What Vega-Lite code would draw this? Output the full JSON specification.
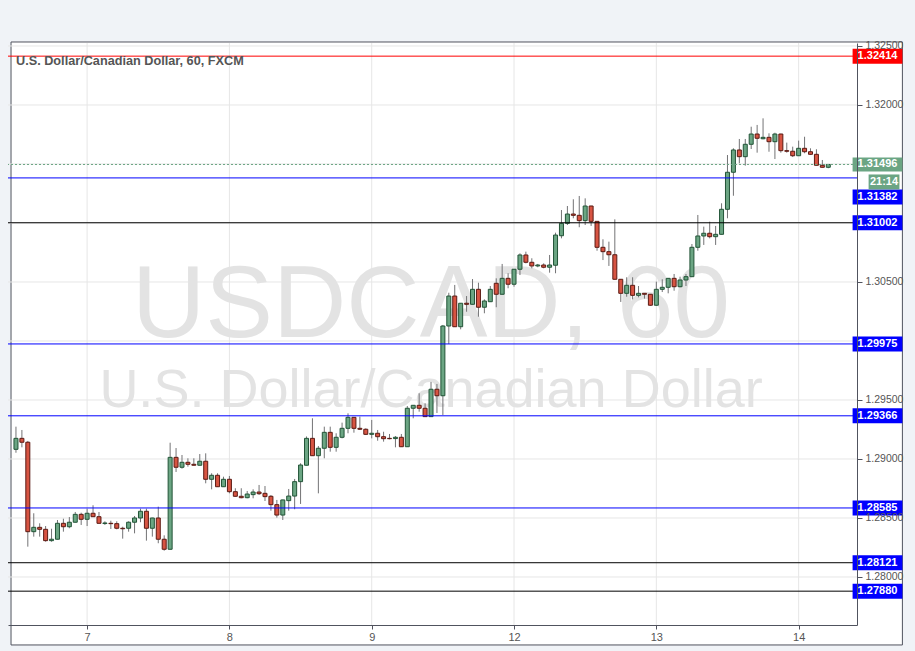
{
"$schema": "https://vega.github.io/schema/vega-lite/v6.json",
"width": 849, "height": 582,
"autosize": {"type": "none"},
"padding": {"left": 8, "top": 43, "right": 58, "bottom": 26},
"background": "#f0f3f7",
"title": {"text": "U.S. Dollar/Canadian Dollar, 60, FXCM", "anchor": "start", "frame": "group", "offset": -37, "dx": 8, "baseline": "alphabetic", "fontSize": 12.7, "fontWeight": "bold", "color": "#555555", "font": "Liberation Sans", "zindex": 1},
"config": {"view": {"stroke": null}, "font": "Liberation Sans"},
"datasets": {
"meta": [{"symbol": "USDCAD, 60", "name": "U.S. Dollar/Canadian Dollar", "countdown": "21:14"}],
"hgrid": [{"p":1.28},{"p":1.285},{"p":1.29},{"p":1.295},{"p":1.30},{"p":1.305},{"p":1.31},{"p":1.315},{"p":1.32},{"p":1.325}],
"vgrid": [{"i":12},{"i":36},{"i":60},{"i":84},{"i":108},{"i":132}],
"levels": [
{"price":1.32414,"kind":"major"},{"price":1.31382,"kind":"minor"},{"price":1.31002,"kind":"key"},{"price":1.29975,"kind":"minor"},
{"price":1.29366,"kind":"minor"},{"price":1.28585,"kind":"minor"},{"price":1.28121,"kind":"key"},{"price":1.27880,"kind":"key"}],
"current": [{"price":1.31496,"countdown":"21:14"}],
"candles": [
{"i":0,"o":1.29082,"h":1.29274,"l":1.29053,"c":1.29175},
{"i":1,"o":1.29175,"h":1.29246,"l":1.29099,"c":1.29142},
{"i":2,"o":1.29142,"h":1.29153,"l":1.28257,"c":1.28384},
{"i":3,"o":1.28384,"h":1.28540,"l":1.28342,"c":1.28421},
{"i":4,"o":1.28421,"h":1.28455,"l":1.28342,"c":1.28404},
{"i":5,"o":1.28404,"h":1.28432,"l":1.28299,"c":1.28308},
{"i":6,"o":1.28308,"h":1.28409,"l":1.28299,"c":1.28320},
{"i":7,"o":1.28320,"h":1.28483,"l":1.28318,"c":1.28455},
{"i":8,"o":1.28455,"h":1.28494,"l":1.28384,"c":1.28426},
{"i":9,"o":1.28426,"h":1.28508,"l":1.28413,"c":1.28464},
{"i":10,"o":1.28464,"h":1.28551,"l":1.28462,"c":1.28531},
{"i":11,"o":1.28531,"h":1.28545,"l":1.28441,"c":1.28489},
{"i":12,"o":1.28489,"h":1.28579,"l":1.28432,"c":1.28540},
{"i":13,"o":1.28540,"h":1.28608,"l":1.28509,"c":1.28511},
{"i":14,"o":1.28511,"h":1.28551,"l":1.28453,"c":1.28455},
{"i":15,"o":1.28453,"h":1.28472,"l":1.28441,"c":1.28458},
{"i":16,"o":1.28455,"h":1.28477,"l":1.28407,"c":1.28452},
{"i":17,"o":1.28452,"h":1.28472,"l":1.28404,"c":1.28413},
{"i":18,"o":1.28413,"h":1.28426,"l":1.28325,"c":1.28409},
{"i":19,"o":1.28413,"h":1.28472,"l":1.28384,"c":1.28464},
{"i":20,"o":1.28464,"h":1.28517,"l":1.28370,"c":1.28500},
{"i":21,"o":1.28500,"h":1.28579,"l":1.28464,"c":1.28557},
{"i":22,"o":1.28557,"h":1.28579,"l":1.28308,"c":1.28413},
{"i":23,"o":1.28413,"h":1.28502,"l":1.28342,"c":1.28500},
{"i":24,"o":1.28500,"h":1.28596,"l":1.28286,"c":1.28320},
{"i":25,"o":1.28320,"h":1.28353,"l":1.28223,"c":1.28235},
{"i":26,"o":1.28235,"h":1.29138,"l":1.28233,"c":1.29014},
{"i":27,"o":1.29014,"h":1.29093,"l":1.28890,"c":1.28930},
{"i":28,"o":1.28930,"h":1.29034,"l":1.28918,"c":1.28972},
{"i":29,"o":1.28972,"h":1.29006,"l":1.28935,"c":1.28955},
{"i":30,"o":1.28955,"h":1.29006,"l":1.28945,"c":1.28947},
{"i":31,"o":1.28947,"h":1.29042,"l":1.28945,"c":1.28981},
{"i":32,"o":1.28981,"h":1.29048,"l":1.28794,"c":1.28828},
{"i":33,"o":1.28828,"h":1.28879,"l":1.28743,"c":1.28862},
{"i":34,"o":1.28862,"h":1.28879,"l":1.28763,"c":1.28765},
{"i":35,"o":1.28765,"h":1.28850,"l":1.28763,"c":1.28828},
{"i":36,"o":1.28828,"h":1.28856,"l":1.28709,"c":1.28723},
{"i":37,"o":1.28723,"h":1.28752,"l":1.28681,"c":1.28684},
{"i":38,"o":1.28684,"h":1.28752,"l":1.28667,"c":1.28672},
{"i":39,"o":1.28672,"h":1.28729,"l":1.28667,"c":1.28703},
{"i":40,"o":1.28698,"h":1.28743,"l":1.28667,"c":1.28720},
{"i":41,"o":1.28720,"h":1.28780,"l":1.28695,"c":1.28706},
{"i":42,"o":1.28709,"h":1.28771,"l":1.28644,"c":1.28681},
{"i":43,"o":1.28684,"h":1.28695,"l":1.28562,"c":1.28613},
{"i":44,"o":1.28613,"h":1.28653,"l":1.28503,"c":1.28525},
{"i":45,"o":1.28525,"h":1.28655,"l":1.28483,"c":1.28653},
{"i":46,"o":1.28647,"h":1.28746,"l":1.28562,"c":1.28686},
{"i":47,"o":1.28686,"h":1.28831,"l":1.28574,"c":1.28808},
{"i":48,"o":1.28808,"h":1.28964,"l":1.28619,"c":1.28949},
{"i":49,"o":1.28947,"h":1.29191,"l":1.28945,"c":1.29175},
{"i":50,"o":1.29175,"h":1.29345,"l":1.29026,"c":1.29028},
{"i":51,"o":1.29028,"h":1.29110,"l":1.28709,"c":1.29091},
{"i":52,"o":1.29091,"h":1.29274,"l":1.29006,"c":1.29226},
{"i":53,"o":1.29226,"h":1.29274,"l":1.29062,"c":1.29099},
{"i":54,"o":1.29099,"h":1.29218,"l":1.29062,"c":1.29184},
{"i":55,"o":1.29184,"h":1.29308,"l":1.29175,"c":1.29260},
{"i":56,"o":1.29260,"h":1.29387,"l":1.29218,"c":1.29353},
{"i":57,"o":1.29353,"h":1.29355,"l":1.29223,"c":1.29260},
{"i":58,"o":1.29260,"h":1.29359,"l":1.29246,"c":1.29252},
{"i":59,"o":1.29252,"h":1.29260,"l":1.29203,"c":1.29209},
{"i":60,"o":1.29209,"h":1.29331,"l":1.29175,"c":1.29218},
{"i":61,"o":1.29218,"h":1.29246,"l":1.29155,"c":1.29189},
{"i":62,"o":1.29189,"h":1.29231,"l":1.29147,"c":1.29172},
{"i":63,"o":1.29175,"h":1.29212,"l":1.29167,"c":1.29172},
{"i":64,"o":1.29173,"h":1.29195,"l":1.29099,"c":1.29184},
{"i":65,"o":1.29184,"h":1.29212,"l":1.29102,"c":1.29104},
{"i":66,"o":1.29104,"h":1.29449,"l":1.29102,"c":1.29430},
{"i":67,"o":1.29430,"h":1.29457,"l":1.29345,"c":1.29455},
{"i":68,"o":1.29455,"h":1.29557,"l":1.29401,"c":1.29430},
{"i":69,"o":1.29430,"h":1.29472,"l":1.29357,"c":1.29359},
{"i":70,"o":1.29359,"h":1.29653,"l":1.29357,"c":1.29591},
{"i":71,"o":1.29591,"h":1.29636,"l":1.29390,"c":1.29536},
{"i":72,"o":1.29536,"h":1.30136,"l":1.29373,"c":1.30127},
{"i":73,"o":1.30127,"h":1.30409,"l":1.29975,"c":1.30381},
{"i":74,"o":1.30381,"h":1.30475,"l":1.30119,"c":1.30121},
{"i":75,"o":1.30121,"h":1.30322,"l":1.30099,"c":1.30320},
{"i":76,"o":1.30320,"h":1.30381,"l":1.30248,"c":1.30311},
{"i":77,"o":1.30311,"h":1.30525,"l":1.30309,"c":1.30438},
{"i":78,"o":1.30438,"h":1.30494,"l":1.30206,"c":1.30286},
{"i":79,"o":1.30286,"h":1.30353,"l":1.30235,"c":1.30339},
{"i":80,"o":1.30333,"h":1.30466,"l":1.30331,"c":1.30438},
{"i":81,"o":1.30489,"h":1.30531,"l":1.30286,"c":1.30396},
{"i":82,"o":1.30396,"h":1.30653,"l":1.30394,"c":1.30531},
{"i":83,"o":1.30531,"h":1.30574,"l":1.30447,"c":1.30481},
{"i":84,"o":1.30481,"h":1.30610,"l":1.30460,"c":1.30608},
{"i":85,"o":1.30608,"h":1.30743,"l":1.30559,"c":1.30729},
{"i":86,"o":1.30729,"h":1.30757,"l":1.30658,"c":1.30667},
{"i":87,"o":1.30667,"h":1.30701,"l":1.30616,"c":1.30636},
{"i":88,"o":1.30636,"h":1.30653,"l":1.30625,"c":1.30644},
{"i":89,"o":1.30644,"h":1.30658,"l":1.30616,"c":1.30625},
{"i":90,"o":1.30625,"h":1.30729,"l":1.30579,"c":1.30644},
{"i":91,"o":1.30642,"h":1.30918,"l":1.30574,"c":1.30898},
{"i":92,"o":1.30892,"h":1.31110,"l":1.30870,"c":1.30997},
{"i":93,"o":1.30997,"h":1.31144,"l":1.30983,"c":1.31076},
{"i":94,"o":1.31076,"h":1.31201,"l":1.31040,"c":1.31065},
{"i":95,"o":1.31065,"h":1.31229,"l":1.30964,"c":1.31020},
{"i":96,"o":1.31020,"h":1.31209,"l":1.30983,"c":1.31144},
{"i":97,"o":1.31144,"h":1.31146,"l":1.30975,"c":1.31014},
{"i":98,"o":1.31014,"h":1.31016,"l":1.30765,"c":1.30794},
{"i":99,"o":1.30794,"h":1.30862,"l":1.30686,"c":1.30757},
{"i":100,"o":1.30757,"h":1.30842,"l":1.30636,"c":1.30731},
{"i":101,"o":1.30731,"h":1.31031,"l":1.30521,"c":1.30523},
{"i":102,"o":1.30523,"h":1.30525,"l":1.30331,"c":1.30404},
{"i":103,"o":1.30404,"h":1.30540,"l":1.30375,"c":1.30472},
{"i":104,"o":1.30472,"h":1.30540,"l":1.30353,"c":1.30387},
{"i":105,"o":1.30387,"h":1.30466,"l":1.30370,"c":1.30404},
{"i":106,"o":1.30404,"h":1.30406,"l":1.30359,"c":1.30396},
{"i":107,"o":1.30396,"h":1.30398,"l":1.30297,"c":1.30303},
{"i":108,"o":1.30303,"h":1.30503,"l":1.30297,"c":1.30438},
{"i":109,"o":1.30438,"h":1.30523,"l":1.30415,"c":1.30455},
{"i":110,"o":1.30455,"h":1.30533,"l":1.30404,"c":1.30531},
{"i":111,"o":1.30531,"h":1.30568,"l":1.30426,"c":1.30460},
{"i":112,"o":1.30460,"h":1.30545,"l":1.30455,"c":1.30517},
{"i":113,"o":1.30517,"h":1.30568,"l":1.30466,"c":1.30545},
{"i":114,"o":1.30545,"h":1.30822,"l":1.30543,"c":1.30794},
{"i":115,"o":1.30794,"h":1.31068,"l":1.30765,"c":1.30890},
{"i":116,"o":1.30890,"h":1.30969,"l":1.30814,"c":1.30913},
{"i":117,"o":1.30913,"h":1.31011,"l":1.30870,"c":1.30884},
{"i":118,"o":1.30884,"h":1.30975,"l":1.30814,"c":1.30904},
{"i":119,"o":1.30904,"h":1.31167,"l":1.30902,"c":1.31116},
{"i":120,"o":1.31116,"h":1.31576,"l":1.31040,"c":1.31430},
{"i":121,"o":1.31430,"h":1.31633,"l":1.31231,"c":1.31619},
{"i":122,"o":1.31619,"h":1.31712,"l":1.31506,"c":1.31562},
{"i":123,"o":1.31562,"h":1.31712,"l":1.31486,"c":1.31667},
{"i":124,"o":1.31667,"h":1.31816,"l":1.31627,"c":1.31754},
{"i":125,"o":1.31754,"h":1.31831,"l":1.31596,"c":1.31718},
{"i":126,"o":1.31714,"h":1.31887,"l":1.31709,"c":1.31726},
{"i":127,"o":1.31726,"h":1.31760,"l":1.31604,"c":1.31689},
{"i":128,"o":1.31689,"h":1.31765,"l":1.31542,"c":1.31754},
{"i":129,"o":1.31754,"h":1.31756,"l":1.31596,"c":1.31613},
{"i":130,"o":1.31613,"h":1.31681,"l":1.31596,"c":1.31608},
{"i":131,"o":1.31608,"h":1.31647,"l":1.31559,"c":1.31570},
{"i":132,"o":1.31570,"h":1.31698,"l":1.31568,"c":1.31633},
{"i":133,"o":1.31633,"h":1.31731,"l":1.31591,"c":1.31604},
{"i":134,"o":1.31604,"h":1.31633,"l":1.31576,"c":1.31582},
{"i":135,"o":1.31582,"h":1.31625,"l":1.31487,"c":1.31489},
{"i":136,"o":1.31489,"h":1.31534,"l":1.31470,"c":1.31472},
{"i":137,"o":1.31472,"h":1.31498,"l":1.31464,"c":1.31496}
]
},
"layer": [
{"data": {"name": "meta"},
 "mark": {"type": "rect", "fill": "white", "stroke": "#50535e", "strokeWidth": 1},
 "encoding": {
  "x": {"datum": -0.833, "type": "quantitative",
        "scale": {"domain": [-0.5, 141], "nice": false, "zero": false},
        "axis": {"orient": "bottom", "values": [12,36,60,84,108,132], "labelExpr": "datum.value==12?'7':datum.value==36?'8':datum.value==60?'9':datum.value==84?'12':datum.value==108?'13':'14'", "grid": false, "domain": true, "domainColor": "#50535e", "tickColor": "#50535e", "tickSize": 4, "labelColor": "#555555", "labelFontSize": 11, "labelFont": "Liberation Sans", "labelPadding": 2, "title": null, "zindex": 1}},
  "x2": {"datum": 149.5},
  "y": {"datum": 1.32534, "type": "quantitative",
        "scale": {"domain": [1.275932, 1.325254], "nice": false, "zero": false},
        "axis": {"orient": "right", "values": [1.28, 1.285, 1.29, 1.295, 1.305, 1.32, 1.325], "format": ".5f", "grid": false, "domain": true, "domainColor": "#50535e", "tickColor": "#50535e", "tickSize": 5, "labelColor": "#555555", "labelFontSize": 10.5, "labelFont": "Liberation Sans", "labelPadding": 3, "title": null, "zindex": 1}},
  "y2": {"datum": 1.27424}
 }},
{"data": {"name": "hgrid"}, "mark": {"type": "rule", "color": "#e6e6e6", "strokeWidth": 1},
 "encoding": {"y": {"field": "p", "type": "quantitative"}}},
{"data": {"name": "vgrid"}, "mark": {"type": "rule", "color": "#e6e6e6", "strokeWidth": 1},
 "encoding": {"x": {"field": "i", "type": "quantitative"}}},
{"data": {"name": "meta"}, "mark": {"type": "text", "font": "Liberation Sans", "fontSize": 101.5, "color": "#e3e3e3", "align": "center", "baseline": "alphabetic"},
 "encoding": {"x": {"datum": 70.0}, "y": {"datum": 1.30034}, "text": {"field": "symbol"}}},
{"data": {"name": "meta"}, "mark": {"type": "text", "font": "Liberation Sans", "fontSize": 54, "color": "#e3e3e3", "align": "center", "baseline": "alphabetic"},
 "encoding": {"x": {"datum": 70.0}, "y": {"datum": 1.29441}, "text": {"field": "name"}}},
{"data": {"name": "candles"}, "mark": {"type": "rule", "color": "#737375", "strokeWidth": 1},
 "encoding": {"x": {"field": "i", "type": "quantitative"}, "y": {"field": "l", "type": "quantitative"}, "y2": {"field": "h"}}},
{"data": {"name": "candles"}, "mark": {"type": "bar", "size": 4, "strokeWidth": 1},
 "encoding": {"x": {"field": "i", "type": "quantitative"}, "y": {"field": "o", "type": "quantitative"}, "y2": {"field": "c"},
  "fill": {"condition": {"test": "datum.c >= datum.o", "value": "#6ba583"}, "value": "#d75442"},
  "stroke": {"condition": {"test": "datum.c >= datum.o", "value": "#225437"}, "value": "#5b1a13"}}},
{"data": {"name": "levels"}, "mark": {"type": "rule", "strokeWidth": 1},
 "encoding": {"y": {"field": "price", "type": "quantitative"},
  "color": {"condition": [{"test": "datum.kind == 'major'", "value": "#ff0000"}, {"test": "datum.kind == 'key'", "value": "#000000"}], "value": "#0000ff"}}},
{"data": {"name": "current"}, "mark": {"type": "rule", "strokeWidth": 1, "strokeDash": [2, 2], "color": "#6ba583"},
 "encoding": {"y": {"field": "price", "type": "quantitative"}}},
{"data": {"name": "levels"}, "transform": [{"filter": "datum.price != 1.31382"}],
 "mark": {"type": "rule", "strokeWidth": 15, "strokeCap": "butt"},
 "encoding": {"x": {"datum": 141.1}, "x2": {"datum": 149.5}, "y": {"field": "price", "type": "quantitative"},
  "color": {"condition": {"test": "datum.kind == 'major'", "value": "#ff0000"}, "value": "#0000ff"}}},
{"data": {"name": "levels"}, "transform": [{"filter": "datum.price == 1.31382"}],
 "mark": {"type": "rule", "strokeWidth": 15, "strokeCap": "butt", "yOffset": 19, "y2Offset": 19, "color": "#0000ff"},
 "encoding": {"x": {"datum": 141.1}, "x2": {"datum": 149.5}, "y": {"field": "price", "type": "quantitative"}}},
{"data": {"name": "current"},
 "mark": {"type": "rule", "strokeWidth": 14, "strokeCap": "butt", "color": "#6ba583"},
 "encoding": {"x": {"datum": 141.1}, "x2": {"datum": 149.5}, "y": {"field": "price", "type": "quantitative"}}},
{"data": {"name": "current"},
 "mark": {"type": "rule", "strokeWidth": 15, "strokeCap": "butt", "color": "#6ba583", "yOffset": 17.5, "y2Offset": 17.5},
 "encoding": {"x": {"datum": 143.8}, "x2": {"datum": 149.0}, "y": {"field": "price", "type": "quantitative"}}},
{"data": {"name": "levels"}, "transform": [{"filter": "datum.price != 1.31382"}],
 "mark": {"type": "text", "color": "white", "fontWeight": "bold", "fontSize": 11, "font": "Liberation Sans", "align": "center", "baseline": "middle"},
 "encoding": {"x": {"datum": 145.3}, "y": {"field": "price", "type": "quantitative"}, "text": {"field": "price", "format": ".5f"}}},
{"data": {"name": "levels"}, "transform": [{"filter": "datum.price == 1.31382"}],
 "mark": {"type": "text", "color": "white", "fontWeight": "bold", "fontSize": 11, "font": "Liberation Sans", "align": "center", "baseline": "middle", "dy": 19},
 "encoding": {"x": {"datum": 145.3}, "y": {"field": "price", "type": "quantitative"}, "text": {"field": "price", "format": ".5f"}}},
{"data": {"name": "current"},
 "mark": {"type": "text", "color": "white", "fontWeight": "bold", "fontSize": 11, "font": "Liberation Sans", "align": "center", "baseline": "middle"},
 "encoding": {"x": {"datum": 145.3}, "y": {"field": "price", "type": "quantitative"}, "text": {"field": "price", "format": ".5f"}}},
{"data": {"name": "current"},
 "mark": {"type": "text", "color": "white", "fontWeight": "bold", "fontSize": 11, "font": "Liberation Sans", "align": "center", "baseline": "middle", "dy": 17.5},
 "encoding": {"x": {"datum": 146.4}, "y": {"field": "price", "type": "quantitative"}, "text": {"field": "countdown"}}}
]
}
